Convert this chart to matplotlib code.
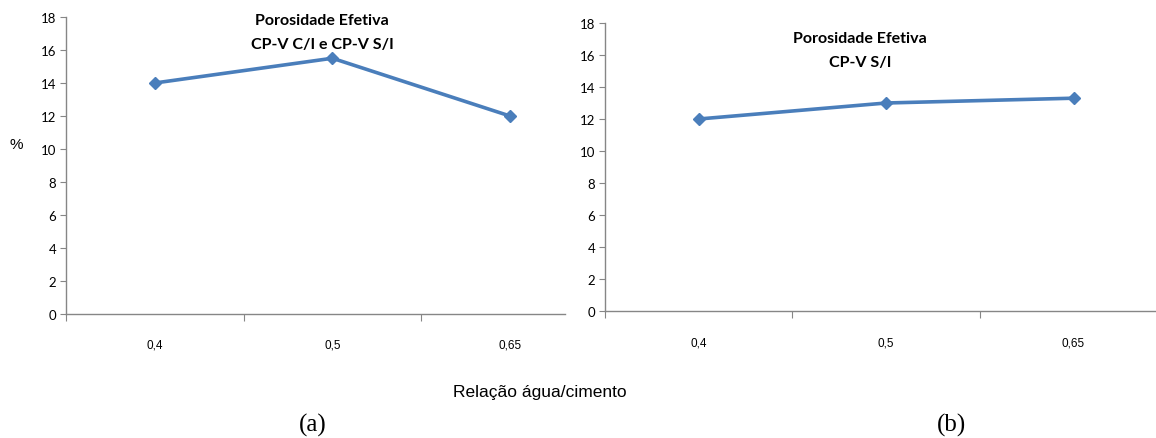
import matplotlib
matplotlib.use("Agg")
import matplotlib.pyplot as plt
from matplotlib import font_manager

# Data
categories = ["0,4", "0,5", "0,65"]
porosity_a = [14.0, 15.5, 12.0]   # CP-V C/I e CP-V S/I
porosity_b = [12.0, 13.0, 13.3]   # CP-V S/I
y_ticks = list(range(0, 19, 2))
title_a = "Porosidade Efetiva\nCP-V C/I e CP-V S/I"
title_b = "Porosidade Efetiva\nCP-V S/I"
x_label = "Relação água/cimento"
y_label = "%"

W, H = 1156, 439
fig = plt.figure(figsize=(W / 100, H / 100), dpi=100)

def installed(name):
    try:
        font_manager.findfont(name, fallback_to_default=False)
        return True
    except Exception:
        return False

tick_font = "Lato" if installed("Lato") else "DejaVu Sans"
narrow_font = "Liberation Sans Narrow" if installed("Liberation Sans Narrow") else "Liberation Sans"

LINE = "#4a7ebb"
SPINE = "#868686"

def px_axes(x0, x1, y_top, y_bot):
    return fig.add_axes([x0 / W, (H - y_bot) / H, (x1 - x0) / W, (y_bot - y_top) / H])

def style(ax, values, xmax, title, title_xy):
    xs = list(range(len(values)))
    ax.plot(xs, values, color=LINE, lw=2.6, marker="D", ms=6.5,
            markerfacecolor=LINE, markeredgecolor=LINE, zorder=3)
    ax.set_xlim(-0.5, xmax)
    ax.set_ylim(0, 18)
    ax.set_yticks(y_ticks)
    ax.set_yticklabels([str(v) for v in y_ticks], fontsize=9.5, family=tick_font)
    ax.set_xticks([-0.5, 0.5, 1.5])
    ax.set_xticklabels([])
    ax.set_xticks(xs, minor=True)
    ax.set_xticklabels(categories, minor=True, fontsize=8.5, family=narrow_font)
    ax.tick_params(axis="x", which="major", length=5, color=SPINE, direction="out")
    ax.tick_params(axis="x", which="minor", length=0, pad=18)
    ax.tick_params(axis="y", length=4, color=SPINE, direction="out", pad=3)
    for s in ("top", "right"):
        ax.spines[s].set_visible(False)
    for s in ("left", "bottom"):
        ax.spines[s].set_color(SPINE)
        ax.spines[s].set_linewidth(1.0)
    fig.text(title_xy[0] / W, 1 - title_xy[1] / H, title, ha="center", va="top",
             fontsize=11.5, fontweight="bold", family=tick_font, linespacing=1.9)

ax_a = px_axes(66, 565, 18, 315)
style(ax_a, porosity_a, 2.31, title_a, (322, 14))

ax_b = px_axes(605, 1156, 24, 312)
style(ax_b, porosity_b, 2.44, title_b, (860, 32))

fig.text(16 / W, 1 - 145 / H, y_label, ha="center", va="center", fontsize=11,
         family="Liberation Sans")
fig.text(540 / W, 1 - 393 / H, x_label, ha="center", va="center", fontsize=12.5,
         family=narrow_font)
fig.text(313 / W, 1 - 425 / H, "(a)", ha="center", va="center", fontsize=18,
         family="Liberation Serif")
fig.text(951 / W, 1 - 425 / H, "(b)", ha="center", va="center", fontsize=18,
         family="Liberation Serif")

fig.savefig("out.png", dpi=100, facecolor="white")
